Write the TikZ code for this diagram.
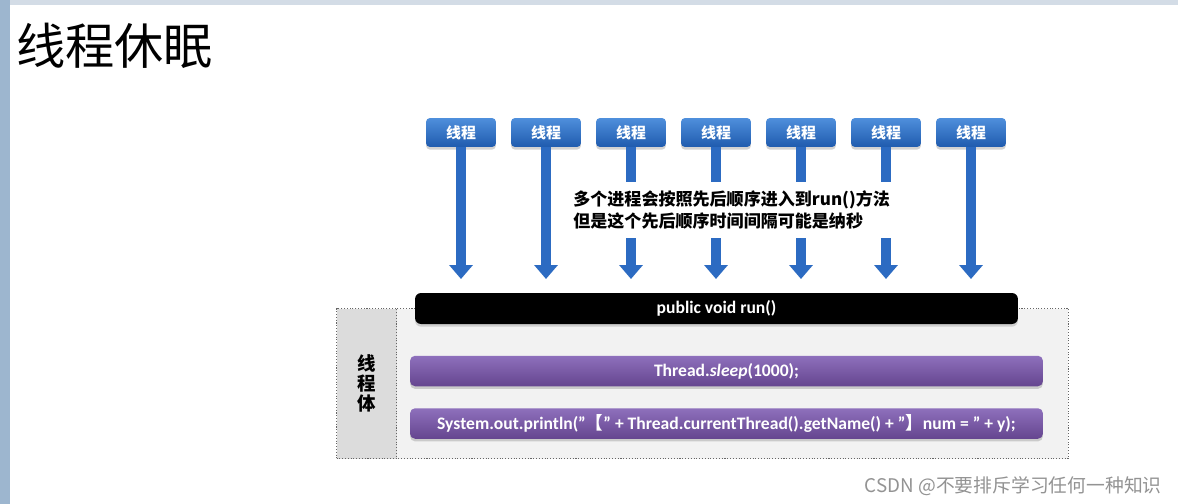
\documentclass[tikz,border=0pt]{standalone}
\usepackage{fontspec}
\setmainfont{Carlito}
\newfontfamily\cjk{Noto Sans CJK SC}
\usetikzlibrary{arrows.meta,shadows}
\definecolor{tbtop}{HTML}{4F8FDC}
\definecolor{tbbot}{HTML}{1F5BAE}
\definecolor{arrowc}{HTML}{2C6BC2}
\definecolor{arrowl}{HTML}{4A88D6}
\definecolor{pptop}{HTML}{8E70BC}
\definecolor{ppbot}{HTML}{65458F}
\definecolor{panel}{HTML}{F2F2F2}
\definecolor{sidec}{HTML}{DCDCDC}
\definecolor{stripT}{HTML}{D3DCE6}
\definecolor{stripL}{HTML}{9DB6CF}
\tikzset{
  tbox/.style={rounded corners=0.08cm, top color=tbtop, bottom color=tbbot, draw=none,
    minimum width=1.4cm, minimum height=0.58cm, inner sep=0pt,
    text=white, font=\cjk\bfseries\fontsize{8.5}{10}\selectfont,
    drop shadow={opacity=0.35, shadow xshift=0pt, shadow yshift=-1.5pt}},
  arr/.style={draw=arrowc, line width=0.2cm, -{Triangle[width=0.46cm,length=0.28cm]}},
  runbox/.style={rounded corners=0.12cm, fill=black, draw=none,
    minimum width=12.06cm, minimum height=0.62cm, inner sep=0pt,
    text=white, font=\bfseries\fontsize{10}{12}\selectfont,
    drop shadow={opacity=0.3, shadow xshift=0pt, shadow yshift=-1.5pt}},
  pbox/.style={rounded corners=0.1cm, top color=pptop, bottom color=ppbot, draw=none,
    minimum width=12.66cm, minimum height=0.61cm, inner sep=0pt,
    text=white, font=\bfseries\fontsize{10}{12}\selectfont,
    drop shadow={opacity=0.35, shadow xshift=0pt, shadow yshift=-1.5pt}},
  frame/.style={draw=gray!80!black, densely dotted, line width=0.6pt},
}
\begin{document}
\begin{tikzpicture}[x=0.02cm,y=-0.02cm]
\useasboundingbox (0,0) rectangle (1178,504);
\fill[white] (0,0) rectangle (1178,504);
% screenshot frame strips
\fill[stripT] (0,0) rectangle (1178,5);
\fill[stripL] (0,0) rectangle (10,504);

% title
\node[anchor=west, inner sep=0pt, font=\cjk\fontsize{28}{32}\selectfont] (title) at (16,46) {线程休眠};

% body panel
\node[frame, fill=panel, minimum width=14.64cm, minimum height=3.0cm, inner sep=0pt, anchor=north west] (panel) at (336,308) {};
\node[frame, fill=sidec, minimum width=1.2cm, minimum height=3.0cm, inner sep=0pt, anchor=north west,
  align=center, font=\cjk\bfseries\fontsize{10.5}{11.4}\selectfont] (side) at (336,308) {线\\程\\体};

% run box and statements
\node[runbox] (run) at (716.5,308.5) {public void run()};
\node[pbox] (s1) at (726.5,371) {Thread.\textit{sleep}(1000);};
\node[pbox] (s2) at (726.5,423.5) {System.out.println("{\cjk\bfseries 【}" + Thread.currentThread().getName() + "{\cjk\bfseries 】}num = " + y);};

% threads
\foreach \i/\x in {1/461,2/546,3/631,4/716,5/801,6/886,7/971}{
  \node[tbox] (t\i) at (\x,132.5) {线程};
  \coordinate (e\i) at (\x,279);
  \draw[arr] (t\i.south) -- (e\i);
}

% note text (masks the arrows behind it)
\node[anchor=west, fill=white, text width=6.6cm, inner xsep=0.1cm, inner ysep=0pt, minimum height=1.12cm,
  align=left, font=\cjk\bfseries\fontsize{9.7}{12.5}\selectfont] (note) at (568,210)
  {多个进程会按照先后顺序进入到run()方法\\但是这个先后顺序时间间隔可能是纳秒};

% watermark
\node[anchor=east, inner sep=0pt, text=gray!85, font=\cjk\fontsize{10.7}{12}\selectfont] (wm) at (1162,486) {CSDN @不要排斥学习任何一种知识};
\end{tikzpicture}
\end{document}
